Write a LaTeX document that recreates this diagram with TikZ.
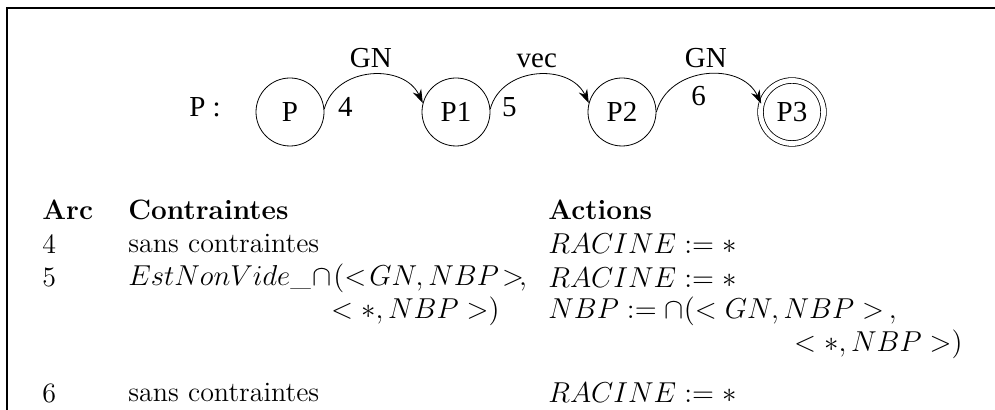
\documentclass[tikz,border=0pt]{standalone}
\usepackage{amsmath}
\usepackage{fontspec}
\usetikzlibrary{arrows.meta,positioning}
\newfontfamily\timesfont{Liberation Serif}
\tikzset{
  >={Stealth[length=2.4mm, width=1.6mm]},
  etat/.style={draw, circle, minimum size=34pt, inner sep=0pt, font=\timesfont\fontsize{14.5}{16}\selectfont},
  final/.style={etat, minimum size=31.5pt, double, double distance=2.4pt},
  arc/.style={->, thin, out=75, in=115, looseness=1.15},
  etiq/.style={font=\timesfont\fontsize{14.5}{16}\selectfont},
  cell/.style={anchor=west, inner sep=0pt, font=\fontsize{14}{16}\selectfont},
}
\begin{document}
\begin{tikzpicture}[x=0.5pt, y=0.5pt]
  \useasboundingbox (0,0) rectangle (995,410);
  % cadre
  \draw[line width=0.8pt] (7,0) -- (7,402) -- (995,402);
  % automate
  \node[etiq] (nomP) at (205,303) {P :};
  \node[etat] (P)  at (290,298) {P};
  \node[etat] (P1) at (456,298) {P1};
  \node[etat] (P2) at (622,298) {P2};
  \node[final] (P3) at (792,298) {P3};
  \draw[arc] (P.5) to node[etiq, above=0pt] {GN} (P1.165);
  \draw[arc] (P1.5) to node[etiq, above=0pt] {vec} (P2.165);
  \draw[arc] (P2.0) to node[etiq, above=0pt] {GN} (P3.165);
  \node[etiq, right=3.3pt of P.east, yshift=2.5pt] (n4) {4};
  \node[etiq, right=2.3pt of P1.east, yshift=2.5pt] (n5) {5};
  \node[etiq, right=14pt of P2.east, yshift=8pt] (n6) {6};
  % tableau
  \node[cell] (hArc) at (42,200) {\textbf{Arc}};
  \node[cell] (hCon) at (128,200) {\textbf{Contraintes}};
  \node[cell] (hAct) at (548,200) {\textbf{Actions}};
  \node[cell] (a4) at (42,166) {4};
  \node[cell] (c4) at (128,166) {sans contraintes};
  \node[cell] (r4) at (548,166) {$RACINE := *$};
  \node[cell] (a5) at (42,132) {5};
  \node[cell] (c5) at (128,132) {$EstNonVide\_\!\cap\!(<\!GN,NBP\!>\!,$};
  \node[cell, anchor=east] (c5b) at (500,99) {$<*,NBP>)$};
  \node[cell] (r5) at (548,132) {$RACINE := *$};
  \node[cell] (r5b) at (548,99) {$NBP := \cap(<GN,NBP>\,,$};
  \node[cell, anchor=east] (r5c) at (963,66) {$<*,NBP>)$};
  \node[cell] (a6) at (42,17) {6};
  \node[cell] (c6) at (128,17) {sans contraintes};
  \node[cell] (r6) at (548,17) {$RACINE := *$};
\end{tikzpicture}
\end{document}
